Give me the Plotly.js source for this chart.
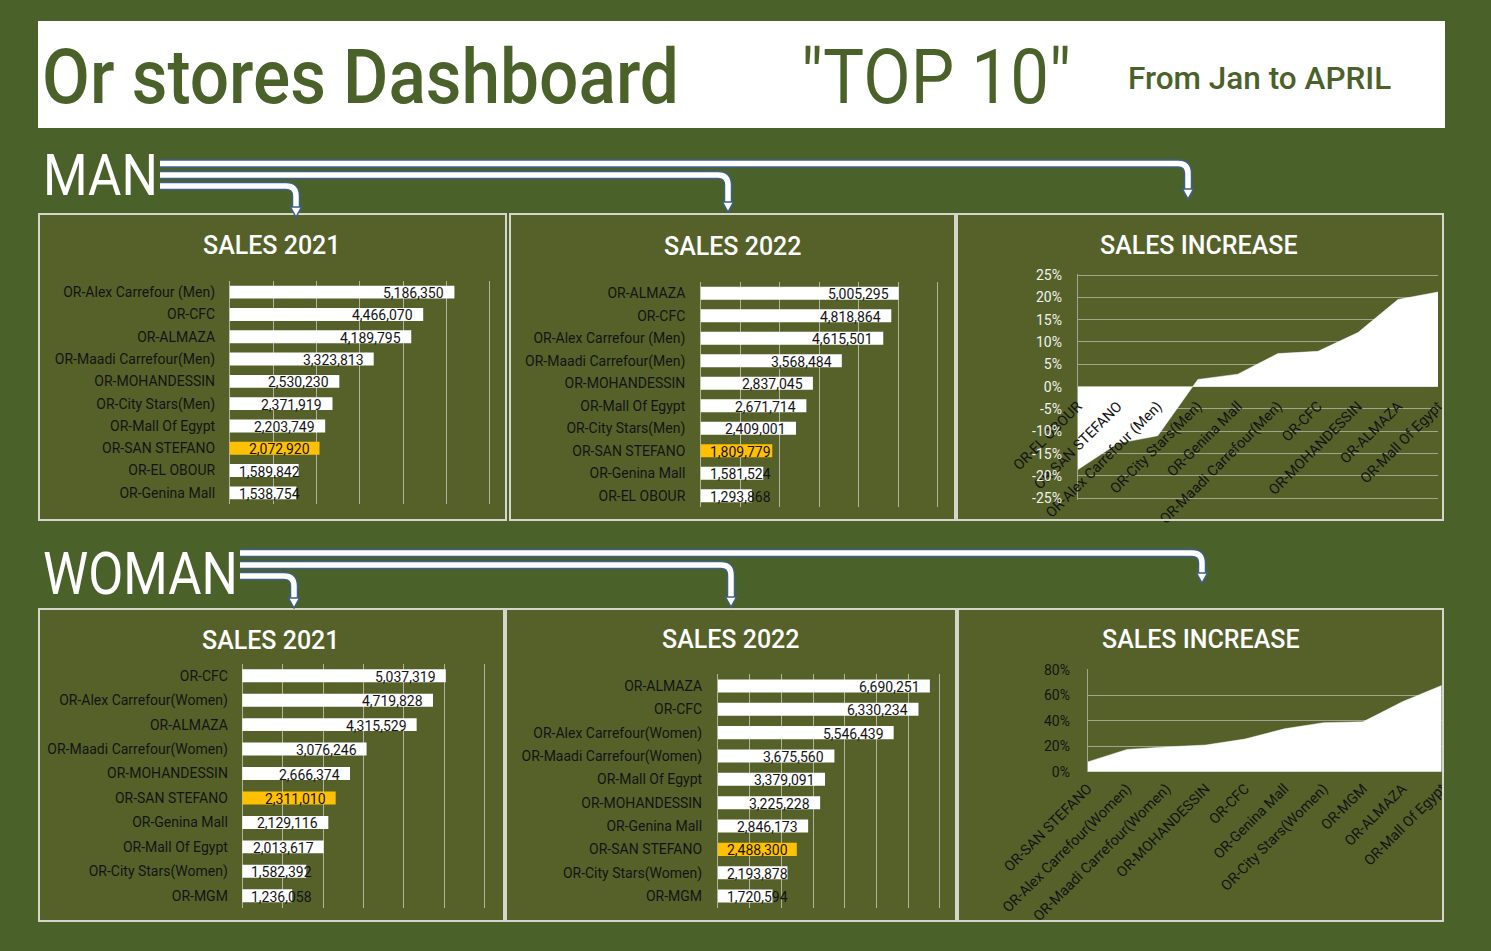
<!DOCTYPE html>
<html><head><meta charset="utf-8">
<script src="https://cdn.plot.ly/plotly-3.0.1.min.js"></script>
<style>html,body{margin:0;padding:0;background:#4b612a;overflow:hidden}</style>
</head><body><div id="chart" style="width:1491px;height:951px"></div>
<script>
// ---------------- DATA ----------------
const manCats2021 = ['OR-Alex Carrefour (Men)','OR-CFC','OR-ALMAZA','OR-Maadi Carrefour(Men)','OR-MOHANDESSIN','OR-City Stars(Men)','OR-Mall Of Egypt','OR-SAN STEFANO','OR-EL OBOUR','OR-Genina Mall'];
const manSales2021 = [5186350,4466070,4189795,3323813,2530230,2371919,2203749,2072920,1589842,1538754];
const manCats2022 = ['OR-ALMAZA','OR-CFC','OR-Alex Carrefour (Men)','OR-Maadi Carrefour(Men)','OR-MOHANDESSIN','OR-Mall Of Egypt','OR-City Stars(Men)','OR-SAN STEFANO','OR-Genina Mall','OR-EL OBOUR'];
const manSales2022 = [5005295,4818864,4615501,3568484,2837045,2671714,2409001,1809779,1581524,1293868];
const manIncCats = ['OR-EL OBOUR','OR-SAN STEFANO','OR-Alex Carrefour (Men)','OR-City Stars(Men)','OR-Genina Mall','OR-Maadi Carrefour(Men)','OR-CFC','OR-MOHANDESSIN','OR-ALMAZA','OR-Mall Of Egypt'];
const manIncrease = [-0.186,-0.127,-0.110,0.016,0.028,0.074,0.079,0.121,0.195,0.212];
const manIncTickVals = [-0.25,-0.20,-0.15,-0.10,-0.05,0,0.05,0.10,0.15,0.20,0.25];
const manIncTickText = ['-25%','-20%','-15%','-10%','-5%','0%','5%','10%','15%','20%','25%'];

const womanCats2021 = ['OR-CFC','OR-Alex Carrefour(Women)','OR-ALMAZA','OR-Maadi Carrefour(Women)','OR-MOHANDESSIN','OR-SAN STEFANO','OR-Genina Mall','OR-Mall Of Egypt','OR-City Stars(Women)','OR-MGM'];
const womanSales2021 = [5037319,4719828,4315529,3076246,2666374,2311010,2129116,2013617,1582392,1236058];
const womanCats2022 = ['OR-ALMAZA','OR-CFC','OR-Alex Carrefour(Women)','OR-Maadi Carrefour(Women)','OR-Mall Of Egypt','OR-MOHANDESSIN','OR-Genina Mall','OR-SAN STEFANO','OR-City Stars(Women)','OR-MGM'];
const womanSales2022 = [6690251,6330234,5546439,3675560,3379091,3225228,2846173,2488300,2193878,1720594];
const womanIncCats = ['OR-SAN STEFANO','OR-Alex Carrefour(Women)','OR-Maadi Carrefour(Women)','OR-MOHANDESSIN','OR-CFC','OR-Genina Mall','OR-City Stars(Women)','OR-MGM','OR-ALMAZA','OR-Mall Of Egypt'];
const womanIncrease = [0.077,0.175,0.195,0.210,0.257,0.337,0.386,0.392,0.550,0.678];
const womanIncTickVals = [0,0.2,0.4,0.6,0.8];
const womanIncTickText = ['0%','20%','40%','60%','80%'];

const highlightStore = 'OR-SAN STEFANO';

// ---------------- STYLE / LAYOUT HELPERS ----------------
const W = 1491, H = 951;
const PAGE = '#4b612a', PANEL = '#556129', BORDER = '#d4d6cc';
const ORANGE = '#ffc000', TXT = '#141414';
const BLUE = '#3f5f8c';
const fx = p => p / W;
const fy = p => 1 - p / H;
const P = (x, y) => fx(x) + ',' + fy(y);
const fmt = v => v.toLocaleString('en-US');

const traces = [];
const layout = {
  width: W, height: H, margin: {l:0, r:0, t:0, b:0},
  paper_bgcolor: PAGE, plot_bgcolor: 'rgba(0,0,0,0)',
  showlegend: false, font: {family: 'Roboto', color: TXT},
  shapes: [], annotations: []
};

function axId(n){ return n === 1 ? '' : String(n); }

function barPanel(n, cats, vals, o) {
  const pad = 0.06;
  const ppm = o.ppm;
  const x0 = o.zeroPx - pad * ppm, x1 = o.zeroPx + (o.max + pad) * ppm;
  traces.push({
    type: 'bar', orientation: 'h', x: vals, y: cats,
    xaxis: 'x' + axId(n), yaxis: 'y' + axId(n), width: o.bw,
    marker: {color: cats.map(c => c === highlightStore ? ORANGE : '#ffffff'), line: {width: 0}},
    hoverinfo: 'none'
  });
  layout['xaxis' + axId(n)] = {
    domain: [fx(x0), fx(x1)], range: [-pad * 1e6, (o.max + pad) * 1e6],
    anchor: 'y' + axId(n), showgrid: true, gridcolor: 'rgba(215,215,210,0.7)', gridwidth: 1,
    dtick: 1e6, tick0: 0, showticklabels: false, zeroline: false, showline: false, ticks: '', fixedrange: true
  };
  layout['yaxis' + axId(n)] = {
    domain: [fy(o.bottom), fy(o.top)], range: [cats.length - 0.5, -0.5], type: 'category',
    anchor: 'x' + axId(n), showgrid: false, zeroline: false, showline: false, ticks: '',
    ticklabelstandoff: o.standoff, tickfont: {family: 'Roboto', size: 14, color: TXT}, fixedrange: true
  };
  vals.forEach((v, i) => {
    const clamp = v / 1e6 * ppm < 80;
    layout.annotations.push({
      xref: 'x' + axId(n), yref: 'y' + axId(n), x: clamp ? 0 : v, y: i,
      xanchor: clamp ? 'left' : 'right', xshift: clamp ? 8 : -9, yanchor: 'middle', yshift: -1,
      text: fmt(v), showarrow: false, borderpad: 0,
      font: {family: 'Roboto', size: 14, color: TXT}
    });
  });
}

function incPanel(n, cats, vals, o) {
  traces.push({
    type: 'scatter', mode: 'lines', x: cats, y: vals,
    xaxis: 'x' + axId(n), yaxis: 'y' + axId(n),
    line: {width: 0.5, color: '#ffffff'}, fill: 'tozeroy', fillcolor: '#ffffff', hoverinfo: 'none'
  });
  const ppu = (o.yBottomPx - o.yTopPx) / (o.yMax - o.yMin);
  const padPx = o.pad * ppu;
  const xa = {
    domain: [fx(o.x0), fx(o.x1)], range: [0, cats.length - 1], type: 'category',
    showgrid: false, zeroline: false, showline: false, ticks: '', tickangle: -45, ticklabelstandoff: 4,
    tickfont: {family: 'Roboto', size: 14.5, color: TXT}, fixedrange: true
  };
  if (o.axisAtPx !== undefined) { xa.anchor = 'free'; xa.position = fy(o.axisAtPx); }
  else { xa.anchor = 'y' + axId(n); }
  layout['xaxis' + axId(n)] = xa;
  layout['yaxis' + axId(n)] = {
    domain: [fy(o.yBottomPx + padPx), fy(o.yTopPx - padPx)], range: [o.yMin - o.pad, o.yMax + o.pad],
    anchor: 'x' + axId(n), showgrid: true, gridcolor: 'rgba(175,178,160,0.85)', gridwidth: 1,
    zeroline: false, showline: true, linecolor: '#a3a594', linewidth: 1, ticks: '',
    tickvals: o.tickVals, ticktext: o.tickText, ticklabelstandoff: o.standoff,
    tickfont: {family: 'Roboto', size: 14, color: o.tickColor}, fixedrange: true
  };
}

// panels: fills (below)
const panels = [
  [39, 214, 506, 520], [510, 214, 955, 520], [957, 214, 1443, 520],
  [39, 609, 504, 921], [506, 609, 956, 921], [958, 609, 1443, 921]
];
panels.forEach(p => layout.shapes.push({type:'rect', xref:'paper', yref:'paper', x0:fx(p[0]), x1:fx(p[2]), y0:fy(p[3]), y1:fy(p[1]), fillcolor:PANEL, line:{width:0}, layer:'below'}));
// header box
layout.shapes.push({type:'rect', xref:'paper', yref:'paper', x0:fx(38), x1:fx(1445), y0:fy(128), y1:fy(21), fillcolor:'#ffffff', line:{width:0}, layer:'below'});

// charts
barPanel(1, manCats2021, manSales2021, {zeroPx:229.7, ppm:43.33, max:6, top:281, bottom:504, bw:0.58, standoff:11});
barPanel(2, manCats2022, manSales2022, {zeroPx:700.7, ppm:39.55, max:6, top:282, bottom:507, bw:0.58, standoff:12});
incPanel(3, manIncCats, manIncrease, {x0:1077.7, x1:1438, yTopPx:275, yBottomPx:498.3, yMin:-0.25, yMax:0.25, pad:0.003,
  tickVals:manIncTickVals, tickText:manIncTickText, standoff:12, tickColor:'#f2f2ee', axisAtPx:390});
barPanel(4, womanCats2021, womanSales2021, {zeroPx:242.3, ppm:40.4, max:6, top:663.5, bottom:908, bw:0.53, standoff:11});
barPanel(5, womanCats2022, womanSales2022, {zeroPx:718, ppm:31.67, max:7, top:674.3, bottom:907.7, bw:0.56, standoff:13});
incPanel(6, womanIncCats, womanIncrease, {x0:1087.7, x1:1441.7, yTopPx:670, yBottomPx:771.7, yMin:0, yMax:0.8, pad:0.005,
  tickVals:womanIncTickVals, tickText:womanIncTickText, standoff:14, tickColor:TXT});

// clip labels beyond right edge
layout.shapes.push({type:'rect', xref:'paper', yref:'paper', x0:fx(1444), x1:1, y0:0, y1:fy(200), fillcolor:PAGE, line:{width:0}, layer:'above'});
// panel borders (above)
panels.forEach(p => layout.shapes.push({type:'rect', xref:'paper', yref:'paper', x0:fx(p[0]), x1:fx(p[2]), y0:fy(p[3]), y1:fy(p[1]), fillcolor:'rgba(0,0,0,0)', line:{width:2, color:BORDER}, layer:'above'}));

// arrows
function arrow(x0, y, xb, ytip) {
  const band = 'M ' + P(x0, y) + ' L ' + P(xb - 10, y) + ' Q ' + P(xb, y) + ' ' + P(xb, y + 10) + ' L ' + P(xb, ytip - 9);
  const head = 'M ' + P(xb - 5.5, ytip - 10) + ' L ' + P(xb + 5.5, ytip - 10) + ' L ' + P(xb, ytip) + ' Z';
  layout.shapes.push({type:'path', xref:'paper', yref:'paper', path:band, line:{color:BLUE, width:8.5}, layer:'above'});
  layout.shapes.push({type:'path', xref:'paper', yref:'paper', path:band, line:{color:'#ffffff', width:5.5}, layer:'above'});
  layout.shapes.push({type:'path', xref:'paper', yref:'paper', path:head, fillcolor:'#ffffff', line:{color:BLUE, width:1.5}, layer:'above'});
}
arrow(160, 163.5, 1188, 199);
arrow(160, 175, 728, 212);
arrow(160, 186, 296, 217);
arrow(240, 553, 1202, 583);
arrow(240, 565, 731, 607);
arrow(240, 576, 294, 608);

// texts
const stretchTargets = [];
function txt(x, y, text, font, xanchor, targetWidth) {
  layout.annotations.push({xref:'paper', yref:'paper', x:fx(x), y:fy(y), text:text, showarrow:false,
    xanchor:xanchor || 'center', yanchor:'middle', font:font, borderpad:0});
  if (targetWidth) stretchTargets.push([layout.annotations.length - 1, targetWidth]);
}
const titleFont = {family:'Roboto', size:25, color:'#ffffff', weight:500};
txt(272, 246, 'SALES 2021', titleFont);
txt(733, 247, 'SALES 2022', titleFont);
txt(1199, 246, 'SALES INCREASE', titleFont);
txt(271, 640, 'SALES 2021', titleFont);
txt(731, 639, 'SALES 2022', titleFont);
txt(1201, 639, 'SALES INCREASE', titleFont);

txt(41, 77, 'Or stores Dashboard', {family:'Roboto', size:76, color:'#4b612a', weight:500}, 'left', 637);
txt(800, 77, '"TOP 10"', {family:'Roboto', size:76, color:'#4b612a'}, 'left', 270);
txt(1127, 78, 'From Jan to APRIL', {family:'Roboto', size:31.5, color:'#4b612a', weight:500}, 'left');
txt(42, 176, 'MAN', {family:'Roboto', size:57, color:'#ffffff'}, 'left', 115);
txt(42, 573, 'WOMAN', {family:'Roboto', size:59, color:'#ffffff'}, 'left', 195);

Plotly.newPlot('chart', traces, layout, {staticPlot:true, displayModeBar:false}).then(gd => {
  // condense the header-style lettering horizontally (narrow typeface look)
  stretchTargets.forEach(([idx, target]) => {
    const t = gd.querySelector('g.annotation[data-index="' + idx + '"] text.annotation-text');
    if (!t) return;
    const bb = t.getBBox();
    const s = target / bb.width;
    const prev = t.getAttribute('transform') || '';
    t.setAttribute('transform', prev + ' translate(' + bb.x + ',0) scale(' + s + ',1) translate(' + (-bb.x) + ',0)');
  });
});
</script></body></html>
